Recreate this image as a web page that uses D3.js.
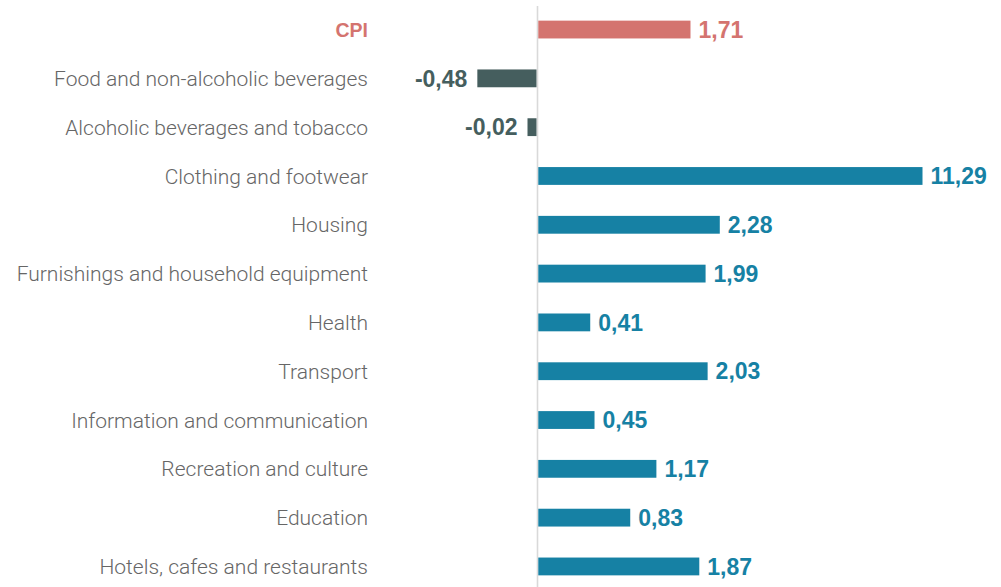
<!DOCTYPE html>
<html><head><meta charset="utf-8">
<script src="https://cdn.jsdelivr.net/npm/d3@7"></script>
<style>
html,body{margin:0;padding:0;background:#fff;}
svg{display:block;}
</style></head>
<body>
<svg id="chart" width="1001" height="587"></svg>
<script>
const categories = [
  "CPI",
  "Food and non-alcoholic beverages",
  "Alcoholic beverages and tobacco",
  "Clothing and footwear",
  "Housing",
  "Furnishings and household equipment",
  "Health",
  "Transport",
  "Information and communication",
  "Recreation and culture",
  "Education",
  "Hotels, cafes and restaurants"
];
const values = [1.71, -0.48, -0.02, 11.29, 2.28, 1.99, 0.41, 2.03, 0.45, 1.17, 0.83, 1.87];
const groups = ["total", "neg", "neg", "pos", "pos", "pos", "pos", "pos", "pos", "pos", "pos", "pos"];

const colors = {total: "#d4746f", neg: "#455e5e", pos: "#1681a4"};
const fmt = v => d3.format(".2f")(v).replace(".", ",").replace("−", "-");

const svg = d3.select("#chart");
const x0 = 537.5;
const x = d3.scaleSymlog().constant(1).domain([0, 11.29]).range([x0, x0 + 385]);
const y = d3.scaleBand().domain(categories).range([6, 590]).paddingInner(0.635).paddingOuter(0.3);

// zero line
svg.append("line")
  .attr("x1", x(0)).attr("x2", x(0))
  .attr("y1", 6).attr("y2", 587)
  .attr("stroke", "#d9d9d9").attr("stroke-width", 1.6);

const rows = categories.map((c, i) => ({c, v: values[i], g: groups[i]}));

svg.selectAll("rect.bar").data(rows).join("rect")
  .attr("class", "bar")
  .attr("x", d => d.v < 0 ? Math.min(x(d.v), x(0) - 10) : x(0) + 0.8)
  .attr("width", d => d.v < 0 ? Math.max(x(0) - 1 - x(d.v), 9) : x(d.v) - x(0) - 0.8)
  .attr("y", d => y(d.c))
  .attr("height", y.bandwidth())
  .attr("fill", d => colors[d.g]);

// value labels
svg.selectAll("text.val").data(rows).join("text")
  .attr("class", "val")
  .attr("x", d => d.v < 0 ? Math.min(x(d.v), x(0) - 10) - 10 : x(d.v) + 8)
  .attr("y", d => y(d.c) + y.bandwidth() / 2)
  .attr("dy", "0.36em")
  .attr("text-anchor", d => d.v < 0 ? "end" : "start")
  .attr("font-family", "Liberation Sans, Arial, sans-serif")
  .attr("font-weight", "bold")
  .attr("font-size", 23)
  .attr("fill", d => colors[d.g])
  .text(d => fmt(d.v));

// category labels
svg.selectAll("text.cat").data(rows).join("text")
  .attr("class", "cat")
  .attr("x", 368)
  .attr("y", d => y(d.c) + y.bandwidth() / 2)
  .attr("dy", "0.36em")
  .attr("text-anchor", "end")
  .attr("font-family", d => d.g === "total" ? "Liberation Sans, Arial, sans-serif" : "Roboto, Liberation Sans, sans-serif")
  .attr("font-weight", d => d.g === "total" ? "bold" : 300)
  .attr("font-size", d => d.g === "total" ? 19.5 : 21)
  .attr("fill", d => d.g === "total" ? colors.total : "#666")
  .text(d => d.c);
</script>
</body></html>
